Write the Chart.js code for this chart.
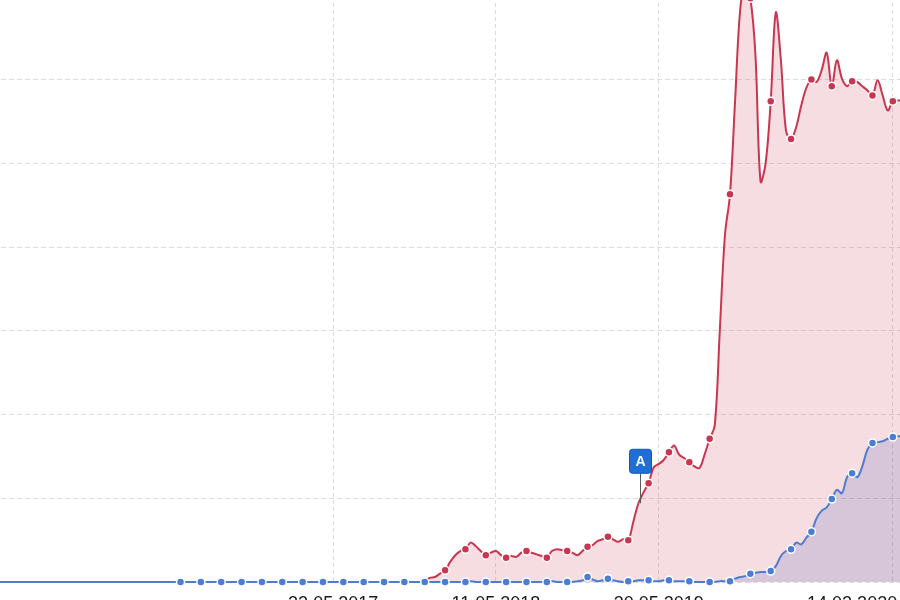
<!DOCTYPE html>
<html>
<head>
<meta charset="utf-8">
<script src="https://cdn.jsdelivr.net/npm/chart.js@4.4.1/dist/chart.umd.min.js"></script>
<style>
  html, body { margin: 0; padding: 0; background: #fff; }
  body { width: 900px; height: 600px; overflow: hidden; position: relative; }
  #wrap { position: absolute; left: -34px; top: -88px; }
</style>
</head>
<body>
<div id="wrap"><canvas id="c" width="948" height="710"></canvas></div>
<script>
// ---- data ----
const tickIndex = [70, 102, 134, 172];
const tickText = ['22.05.2017', '11.05.2018', '30.05.2019', '14.02.2020'];
const gridIndex = [70, 102, 134, 180];

const blueValues = [
  0,0,0,0,0,0,0,0,0,0, 0,0,0,0,0,0,0,0,0,0,
  0,0,0,0,0,0,0,0,0,0, 0,0,0,0,0,0,0,0,0,0,
  0,0,0,0,0,0,0,0,0,0, 0,0,0,0,0,0,0,0,0,0,
  0,0,0,0,0,0,0,0,0,0, 0,0,0,0,0,0,0,0,0,0,
  0,0,0,0,0,0,0,0,0,0, 0,0,0,0,0,0,0,
  1,0,0,0, 0,0,0,0, 0,0,0,0, 0,0,0,0, 1,0,0,0, 0,1,2,6, 3,1,2,4, 2,1,0,1,
  1,2,2,2, 1,1,2,2, 1,1,1,1, 0,0,0,0, 0,1,1,1, 4,6,7,10, 11,12,12,13,
  19,31,37,39, 47,45,53,60, 76,85,89,99, 110,106,125,130, 125,138,158,166,
  167,168,171,173, 174,174
];

const redStart = 88;
const redValues = [
  1,5,6,10,14,
  24,32,37,39, 47,43,37,32, 35,37,32,29, 31,30,35,37, 35,33,31,29,
  37,39,38,37, 35,32,37,42, 44,49,51,54, 51,48,51,50, 72,94,107,118,
  137,141,146,155, 163,152,148,143, 138,136,152,171, 187,301,414,463,
  575,683,713,697, 629,478,500,574, 680,623,539,529, 543,569,590,600,
  597,611,632,592, 623,601,592,598, 597,592,587,581, 599,581,563,574,
  575,575
];

const flags = [{ text: 'A', index: 130 }];

// ---- build ----
const categories = blueValues.map((_, i) => {
  const k = tickIndex.indexOf(i);
  return k >= 0 ? tickText[k] : '';
});
const redData = new Array(redStart).fill(null).concat(redValues);

const flagPlugin = {
  id: 'flags',
  afterDatasetsDraw(chart) {
    const ctx = chart.ctx, xs = chart.scales.x, ys = chart.scales.y;
    flags.forEach(f => {
      const x = Math.round(xs.getPixelForValue(f.index + 0.4)) + 0.5;
      const y = ys.getPixelForValue(redData[f.index]);
      const w = 22, h = 24, pole = 30;
      const bottom = y - pole, top = bottom - h;
      ctx.save();
      ctx.strokeStyle = '#5a5a5a';
      ctx.lineWidth = 1;
      ctx.beginPath();
      ctx.moveTo(x, y);
      ctx.lineTo(x, bottom);
      ctx.stroke();
      ctx.beginPath();
      ctx.roundRect(x - w / 2, top, w, h, 3);
      ctx.fillStyle = '#1f6fd6';
      ctx.fill();
      ctx.strokeStyle = '#1257b0';
      ctx.stroke();
      ctx.fillStyle = '#fff';
      ctx.font = 'bold 14px "Liberation Sans", Arial, sans-serif';
      ctx.textAlign = 'center';
      ctx.textBaseline = 'middle';
      ctx.fillText(f.text, x, top + h / 2 + 1);
      ctx.restore();
    });
  }
};

const chart = new Chart(document.getElementById('c'), {
  type: 'line',
  data: {
    labels: categories,
    datasets: [
      {
        label: 'blue',
        data: blueValues,
        borderColor: '#4f7ccc',
        backgroundColor: 'rgba(80,90,190,0.18)',
        borderWidth: 2,
        fill: 'origin',
        tension: 0.35,
        clip: false,
        pointRadius: ctx => (ctx.dataIndex >= 40 && ctx.dataIndex % 4 === 0) ? 4 : 0,
        pointBackgroundColor: '#4a7ed4',
        pointBorderColor: '#ffffff',
        pointBorderWidth: 1.5
      },
      {
        label: 'red',
        data: redData,
        borderColor: '#c8374f',
        backgroundColor: 'rgba(200,55,80,0.17)',
        borderWidth: 2,
        fill: 'origin',
        tension: 0.35,
        clip: false,
        pointRadius: ctx => (ctx.dataIndex >= 92 && ctx.dataIndex % 4 === 0) ? 4 : 0,
        pointBackgroundColor: '#c8374f',
        pointBorderColor: '#ffffff',
        pointBorderWidth: 1.5
      }
    ]
  },
  options: {
    responsive: false,
    maintainAspectRatio: false,
    animation: false,
    events: [],
    layout: { padding: 0 },
    plugins: { legend: { display: false }, tooltip: { enabled: false } },
    scales: {
      x: {
        type: 'category',
        grid: {
          color: ctx => gridIndex.includes(ctx.index) ? '#dcdcdc' : 'rgba(0,0,0,0)',
          lineWidth: 1,
          drawTicks: false
        },
        border: { display: false, dash: [4, 3] },
        ticks: {
          autoSkip: false,
          maxRotation: 0,
          minRotation: 0,
          padding: 11,
          color: '#1a1a1a',
          font: { family: '"Liberation Sans", Arial, sans-serif', size: 18 }
        },
        afterFit: s => { s.height = 40; }
      },
      y: {
        min: 0,
        max: 800,
        ticks: { display: false, stepSize: 100 },
        grid: { color: '#dcdcdc', lineWidth: 1, drawTicks: false },
        border: { display: false, dash: [5, 3] },
        afterFit: s => { s.width = 0; }
      }
    }
  },
  plugins: [flagPlugin]
});

// Place the plot so its origin sits at page (-23, -88)
(function place() {
  const ca = chart.chartArea;
  const wrap = document.getElementById('wrap');
  wrap.style.left = (-23 - ca.left) + 'px';
  wrap.style.top = (-88 - ca.top) + 'px';
})();
</script>
</body>
</html>
